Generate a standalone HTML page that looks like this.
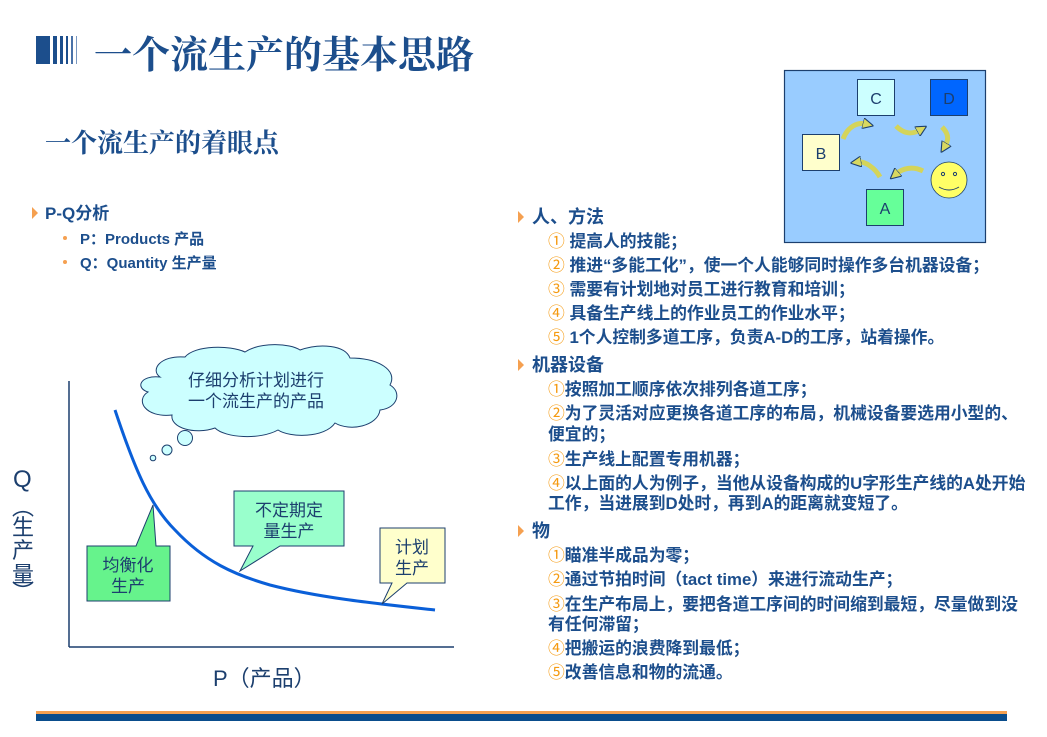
<!DOCTYPE html>
<html><head><meta charset="utf-8">
<style>
html,body{margin:0;padding:0;background:#fff;}
svg{display:block;}
.cn{font-family:"Liberation Sans","Noto Sans CJK SC",sans-serif;}
.sf{font-family:"Liberation Serif","Noto Serif CJK SC",serif;}
</style></head><body>
<svg width="1047" height="737" viewBox="0 0 1047 737" xmlns="http://www.w3.org/2000/svg">
<defs>
<marker id="ah" viewBox="0 0 10 10" refX="3" refY="5" markerWidth="2.2" markerHeight="2.2" orient="auto"><path d="M0,0 L10,5 L0,10 z" fill="#d8d860" stroke="#1c3f6e" stroke-width="1"/></marker>
</defs>
<rect x="36" y="36" width="14" height="28" fill="#1c4e8c"/>
<rect x="53" y="36" width="4" height="28" fill="#1c4e8c"/>
<rect x="60" y="36" width="3" height="28" fill="#1c4e8c"/>
<rect x="66" y="36" width="2" height="28" fill="#1c4e8c"/>
<rect x="71" y="36" width="2" height="28" fill="#4a72a8"/>
<rect x="76" y="36" width="1" height="28" fill="#7a98c0"/>
<text x="94" y="68" class="sf" font-size="38" font-weight="bold" fill="#1c4e8c">一个流生产的基本思路</text>
<text x="45" y="152" class="sf" font-size="26" font-weight="bold" fill="#1c4e8c">一个流生产的着眼点</text>

<path d="M32,207 L38,213 L32,219 z" fill="#f5a050"/>
<text x="45" y="219" class="cn" font-size="17" font-weight="bold" fill="#1c4e8c">P-Q分析</text>
<circle cx="65" cy="238" r="2" fill="#f5a050"/>
<circle cx="65" cy="262" r="2" fill="#f5a050"/>
<text x="80" y="244" class="cn" font-size="15" font-weight="bold" fill="#1c4e8c">P：Products 产品</text>
<text x="80" y="268" class="cn" font-size="15" font-weight="bold" fill="#1c4e8c">Q：Quantity 生产量</text>

<line x1="69" y1="381" x2="69" y2="647" stroke="#1c3f6e" stroke-width="1.5"/>
<line x1="69" y1="647" x2="454" y2="647" stroke="#1c3f6e" stroke-width="1.5"/>
<path d="M115,410 C135,470 150,505 175,530 C205,562 235,575 270,585 C320,598 380,604 435,610" fill="none" stroke="#0a5fd8" stroke-width="3"/>
<path d="M160,377 C150,370 160,355 185,357 C195,345 230,345 245,352 C260,342 290,343 300,350 C320,343 345,345 350,358 C378,358 398,370 390,385 C402,392 398,408 380,410 C378,426 350,432 335,423 C325,438 290,438 278,430 C260,440 225,438 215,428 C195,435 170,428 172,415 C145,418 135,400 148,392 C135,388 140,375 160,377 z" fill="#ccffff" stroke="#1c3f6e" stroke-width="1"/>
<text x="256" y="386" text-anchor="middle" class="cn" font-size="17" fill="#1c3f6e">仔细分析计划进行</text>
<text x="256" y="407" text-anchor="middle" class="cn" font-size="17" fill="#1c3f6e">一个流生产的产品</text>
<circle cx="185" cy="438" r="7.5" fill="#ccffff" stroke="#1c3f6e"/>
<circle cx="167" cy="450" r="5" fill="#ccffff" stroke="#1c3f6e"/>
<circle cx="153" cy="458" r="2.8" fill="#ccffff" stroke="#1c3f6e"/>
<path d="M87,546 L136,546 L153,505 L156,546 L170,546 L170,601 L87,601 z" fill="#66f38c" stroke="#1c3f6e"/>
<text x="128" y="571" text-anchor="middle" class="cn" font-size="17" fill="#1c3f6e">均衡化</text>
<text x="128" y="592" text-anchor="middle" class="cn" font-size="17" fill="#1c3f6e">生产</text>
<path d="M234,491 L344,491 L344,546 L280,546 L240,571 L253,546 L234,546 z" fill="#99ffcc" stroke="#1c3f6e"/>
<text x="289" y="516" text-anchor="middle" class="cn" font-size="17" fill="#1c3f6e">不定期定</text>
<text x="289" y="537" text-anchor="middle" class="cn" font-size="17" fill="#1c3f6e">量生产</text>
<path d="M380,528 L445,528 L445,583 L407,583 L382,604 L392,583 L380,583 z" fill="#ffffcc" stroke="#1c3f6e"/>
<text x="412" y="553" text-anchor="middle" class="cn" font-size="17" fill="#1c3f6e">计划</text>
<text x="412" y="574" text-anchor="middle" class="cn" font-size="17" fill="#1c3f6e">生产</text>
<text x="13" y="487" class="cn" font-size="24" fill="#1c3f6e">Q</text>
<text x="23" y="515" text-anchor="middle" class="cn" font-size="22" fill="#1c3f6e">︵</text>
<text x="23" y="535" text-anchor="middle" class="cn" font-size="22" fill="#1c3f6e">生</text>
<text x="23" y="558" text-anchor="middle" class="cn" font-size="22" fill="#1c3f6e">产</text>
<text x="23" y="582" text-anchor="middle" class="cn" font-size="22" fill="#1c3f6e">量</text>
<text x="23" y="600" text-anchor="middle" class="cn" font-size="22" fill="#1c3f6e">︶</text>
<text x="213" y="686" class="cn" font-size="22" fill="#1c3f6e">P（产品）</text>

<rect x="784.5" y="70.5" width="201" height="172" fill="#99ccff" stroke="#1c3f6e" stroke-width="1.2"/>
<rect x="857.5" y="79.5" width="37" height="36" fill="#ccffff" stroke="#1c3f6e"/>
<text x="876" y="104" text-anchor="middle" class="cn" font-size="16" fill="#1c3f6e">C</text>
<rect x="930.5" y="79.5" width="37" height="36" fill="#0066ff" stroke="#1c3f6e"/>
<text x="949" y="104" text-anchor="middle" class="cn" font-size="16" fill="#1c3f6e">D</text>
<rect x="802.5" y="134.5" width="37" height="36" fill="#ffffcc" stroke="#1c3f6e"/>
<text x="821" y="159" text-anchor="middle" class="cn" font-size="16" fill="#1c3f6e">B</text>
<rect x="866.5" y="189.5" width="37" height="36" fill="#66ff99" stroke="#1c3f6e"/>
<text x="885" y="214" text-anchor="middle" class="cn" font-size="16" fill="#1c3f6e">A</text>
<circle cx="949" cy="180" r="18" fill="#ffff66" stroke="#1c3f6e" stroke-width="0.8"/>
<circle cx="943" cy="174" r="1.6" fill="none" stroke="#1c3f6e"/>
<circle cx="955" cy="174" r="1.6" fill="none" stroke="#1c3f6e"/>
<path d="M939,187 Q949,193 959,187" fill="none" stroke="#1c3f6e" stroke-width="1"/>
<g fill="none" stroke="#d4d45a" stroke-width="5" marker-end="url(#ah)">
<path d="M843,139 C848,126 858,122 866,124"/>
<path d="M896,126 C905,135 913,134 920,130"/>
<path d="M942,127 C950,135 948,141 945,146"/>
<path d="M923,171 C913,166 903,168 896,174"/>
<path d="M880,177 C875,168 865,161 858,162"/>
</g>

<g class="cn" font-weight="bold" fill="#1c4e8c">
<path d="M518,211 L524,217 L518,223 z" fill="#f5a050"/>
<text x="532" y="223" font-size="18">人、方法</text>
<g font-size="16.8">
<text x="548" y="247"><tspan fill="#f59a10" font-weight="normal">①</tspan> 提高人的技能；</text>
<text x="548" y="271"><tspan fill="#f59a10" font-weight="normal">②</tspan> 推进“多能工化”，使一个人能够同时操作多台机器设备；</text>
<text x="548" y="295"><tspan fill="#f59a10" font-weight="normal">③</tspan> 需要有计划地对员工进行教育和培训；</text>
<text x="548" y="319"><tspan fill="#f59a10" font-weight="normal">④</tspan> 具备生产线上的作业员工的作业水平；</text>
<text x="548" y="343"><tspan fill="#f59a10" font-weight="normal">⑤</tspan> 1个人控制多道工序，负责A-D的工序，站着操作。</text>
</g>
<path d="M518,359 L524,365 L518,371 z" fill="#f5a050"/>
<text x="532" y="371" font-size="18">机器设备</text>
<g font-size="16.8">
<text x="548" y="395"><tspan fill="#f59a10" font-weight="normal">①</tspan>按照加工顺序依次排列各道工序；</text>
<text x="548" y="419"><tspan fill="#f59a10" font-weight="normal">②</tspan>为了灵活对应更换各道工序的布局，机械设备要选用小型的、</text>
<text x="548" y="440">便宜的；</text>
<text x="548" y="465"><tspan fill="#f59a10" font-weight="normal">③</tspan>生产线上配置专用机器；</text>
<text x="548" y="489"><tspan fill="#f59a10" font-weight="normal">④</tspan>以上面的人为例子，当他从设备构成的U字形生产线的A处开始</text>
<text x="548" y="509">工作，当进展到D处时，再到A的距离就变短了。</text>
</g>
<path d="M518,525 L524,531 L518,537 z" fill="#f5a050"/>
<text x="532" y="537" font-size="18">物</text>
<g font-size="16.8">
<text x="548" y="561"><tspan fill="#f59a10" font-weight="normal">①</tspan>瞄准半成品为零；</text>
<text x="548" y="585"><tspan fill="#f59a10" font-weight="normal">②</tspan>通过节拍时间（tact time）来进行流动生产；</text>
<text x="548" y="610"><tspan fill="#f59a10" font-weight="normal">③</tspan>在生产布局上，要把各道工序间的时间缩到最短，尽量做到没</text>
<text x="548" y="630">有任何滞留；</text>
<text x="548" y="654"><tspan fill="#f59a10" font-weight="normal">④</tspan>把搬运的浪费降到最低；</text>
<text x="548" y="678"><tspan fill="#f59a10" font-weight="normal">⑤</tspan>改善信息和物的流通。</text>
</g>
</g>

<rect x="36" y="711" width="971" height="3" fill="#f5a050"/>
<rect x="36" y="714" width="971" height="7" fill="#0a4d8c"/>
</svg>
</body></html>
